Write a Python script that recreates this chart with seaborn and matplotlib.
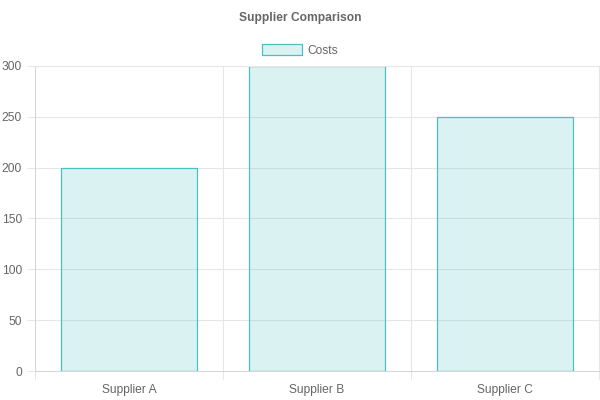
import matplotlib
matplotlib.use("Agg")
import matplotlib.pyplot as plt
import seaborn as sns
import pandas as pd
from matplotlib.patches import Patch

categories = ["Supplier A", "Supplier B", "Supplier C"]
costs = [200, 300, 250]
series_name = "Costs"
title = "Supplier Comparison"
y_ticks = [0, 50, 100, 150, 200, 250, 300]

sns.set_theme(style="white")
plt.rcParams['font.family'] = ['Liberation Sans', 'DejaVu Sans']

df = pd.DataFrame({"supplier": categories, "cost": costs})

fig = plt.figure(figsize=(6, 4), dpi=100)
ax = fig.add_axes([35/600, 29/400, 564/600, 305/400])

edge = (75/255, 192/255, 192/255, 1.0)
fill = (75/255, 192/255, 192/255, 0.2)
sns.barplot(data=df, x="supplier", y="cost", ax=ax, width=0.72,
            color=edge, saturation=1)
for p in ax.patches:
    p.set_facecolor(fill)
    p.set_edgecolor(edge)
    p.set_linewidth(0.9)
    p.set_snap(True)

fs = 12 * 72 / 100
grid_c = "#e6e6e6"
axis_c = "#d6d6d6"
txt_c = "#666666"

ax.set_xlim(-0.5, 2.5)
ax.set_ylim(0, 300)
ax.set_yticks(y_ticks)
ax.set_yticklabels([str(v) for v in y_ticks])
ax.set_xticks([0, 1, 2])
ax.set_xticklabels(categories)
ax.set_xticks([-0.5, 0.5, 1.5, 2.5], minor=True)
ax.set_xlabel("")
ax.set_ylabel("")

ax.tick_params(axis="y", which="major", length=5.76, width=0.75, color=grid_c,
               labelsize=fs, labelcolor=txt_c, pad=3.6, left=True)
ax.tick_params(axis="x", which="major", length=0, labelsize=fs,
               labelcolor=txt_c, pad=9.5)
ax.tick_params(axis="x", which="minor", length=5.76, width=0.75, color=grid_c,
               bottom=True)

ax.set_axisbelow(True)
ax.yaxis.grid(True, color=grid_c, linewidth=0.75)
ax.xaxis.grid(True, which="minor", color=grid_c, linewidth=0.75)
ax.xaxis.grid(False, which="major")

for s in ["top", "right"]:
    ax.spines[s].set_color(grid_c)
    ax.spines[s].set_linewidth(0.75)
for s in ["left", "bottom"]:
    ax.spines[s].set_color(axis_c)
    ax.spines[s].set_linewidth(0.75)

fig.text(0.5, 1 - 17.5/400, title, ha="center", va="center",
         fontsize=fs, fontweight="bold", color=txt_c)

handle = Patch(facecolor=fill, edgecolor=edge, linewidth=0.9, label=series_name)
leg = fig.legend(handles=[handle], loc="center", bbox_to_anchor=(0.5, 1 - 50.5/400),
                 frameon=False, fontsize=fs, handlelength=40/12, handleheight=1.0,
                 handletextpad=0.5, borderpad=0)
for t in leg.get_texts():
    t.set_color(txt_c)

fig.savefig("out.png", dpi=100)
